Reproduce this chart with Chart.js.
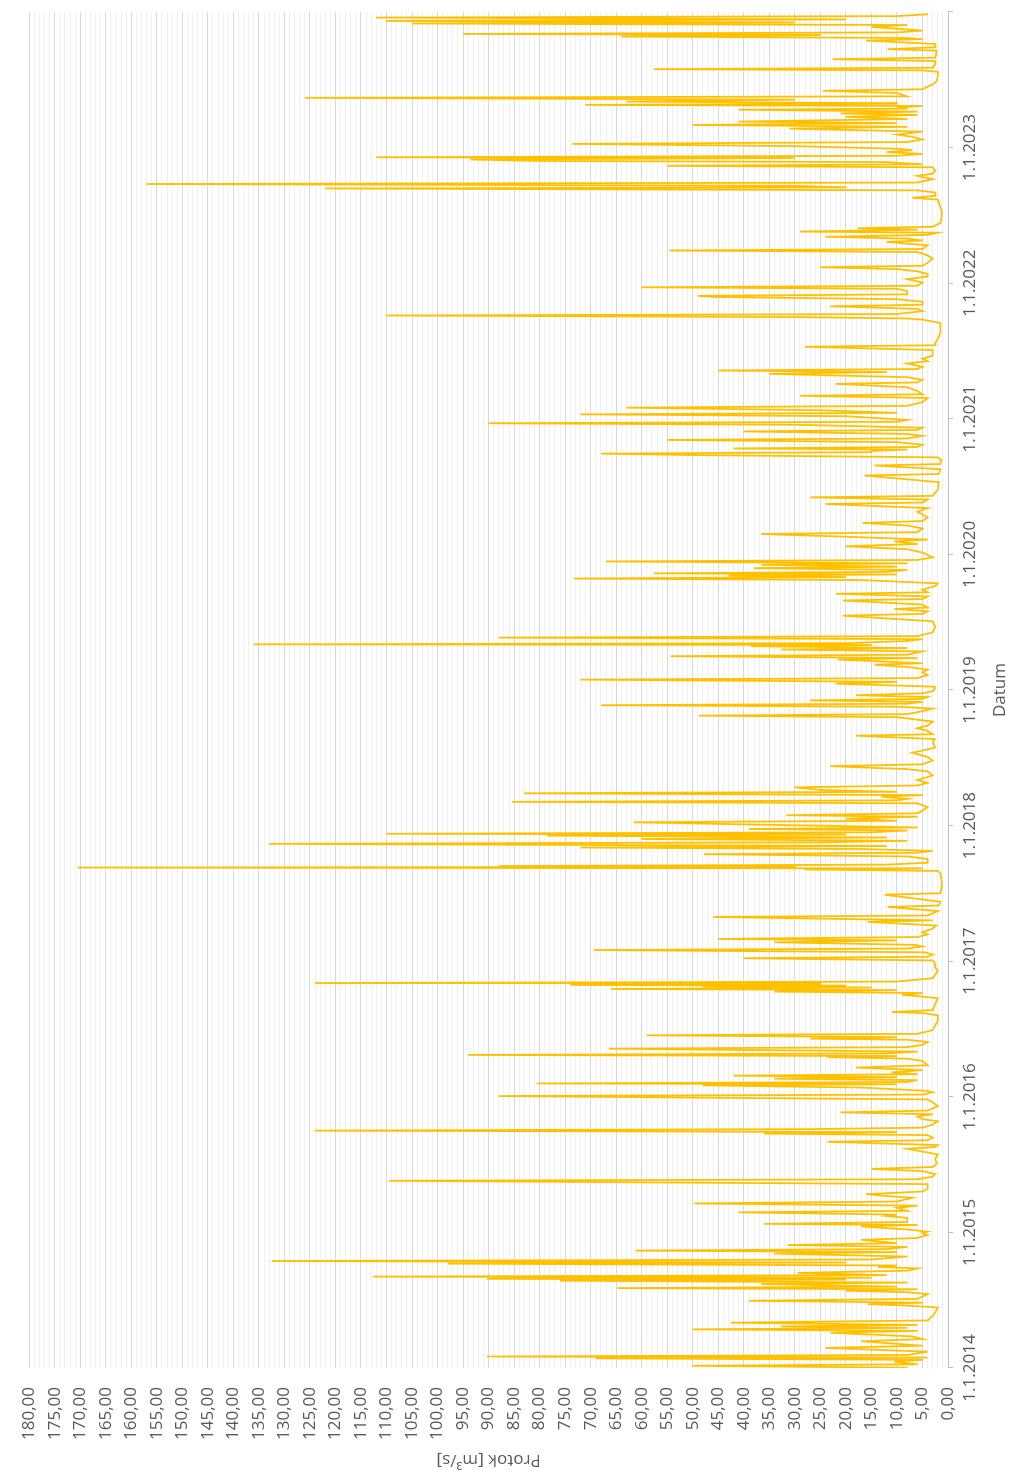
<!DOCTYPE html>
<html>
<head>
<meta charset="utf-8">
<script src="https://cdn.jsdelivr.net/npm/chart.js@4.4.1/dist/chart.umd.min.js"></script>
<style>
  html, body { margin: 0; padding: 0; background: #fff; overflow: hidden; }
  /* graf je nacrtan vodoravno pa zakrenut za -90 stupnjeva */
  #okvir {
    position: absolute; left: 0; top: 0;
    width: 1470px; height: 1013px;
    transform-origin: 0 0;
    transform: translateY(1470px) rotate(-90deg);
  }
</style>
</head>
<body>
<div id="okvir"><canvas id="chart" width="1470" height="1013" style="width:1470px;height:1013px"></canvas></div>
<script>
// [dan u godini, protok m3/s] - ocitano s grafa
const godine = [2014, 2015, 2016, 2017, 2018, 2019, 2020, 2021, 2022, 2023];
const oznakeDatuma = ["1.1.2014", "1.1.2015", "1.1.2016", "1.1.2017", "1.1.2018", "1.1.2019", "1.1.2020", "1.1.2021", "1.1.2022", "1.1.2023"];

const protok2014 = [[1, 8], [6, 50], [10, 6], [17, 10.5], [22, 5], [26, 69], [28, 4], [31, 90.3], [35, 8], [44, 4], [54, 24], [60, 5], [72, 17], [78, 5], [85, 7], [95, 23], [100, 6], [104, 50], [108, 8], [112, 32.7], [116, 6], [122, 42.5], [128, 4], [140, 3], [150, 2.5], [163, 2], [168, 8], [172, 15.7], [176, 5], [181, 39], [186, 6], [199, 4], [204, 8], [208, 20], [212, 6], [215, 64.8], [219, 10], [226, 36.6], [230, 8], [235, 76], [238, 20], [240, 90.3], [243, 15], [246, 112.6], [250, 12], [256, 29.5], [262, 8], [268, 6], [272, 13.7], [276, 10], [281, 98], [284, 20], [288, 132.5], [292, 15], [300, 8], [308, 34], [312, 10], [316, 61.2], [320, 12], [326, 8], [331, 31.4], [336, 10], [345, 17], [350, 6], [358, 4], [363, 5]];
const protok2015 = [[2, 4], [8, 8], [16, 17], [20, 6], [23, 36], [28, 8], [39, 8], [44, 12], [48, 10], [54, 41], [58, 8], [66, 10], [72, 6], [78, 49.7], [83, 10], [93, 7], [98, 12], [103, 16], [110, 5], [118, 4], [130, 4], [139, 109.5], [143, 6], [150, 3], [157, 2.5], [165, 5], [171, 15], [176, 3], [185, 2.2], [198, 2.5], [210, 2], [225, 7.9], [230, 2.5], [235, 2], [244, 23.6], [248, 4], [255, 3], [262, 4], [266, 36], [270, 10], [274, 124], [278, 27], [282, 5], [290, 3], [299, 2], [305, 5], [312, 6], [318, 3], [323, 21], [328, 4], [340, 2], [350, 3], [358, 4]];
const protok2016 = [[2, 88], [6, 5], [12, 3], [16, 4], [25, 17], [31, 48], [34, 10], [36, 80.5], [40, 8], [45, 6], [49, 34], [53, 10], [57, 42], [61, 6], [66, 11], [72, 5], [79, 18], [85, 4], [97, 5], [103, 8], [107, 23.6], [110, 10], [113, 94], [117, 12], [122, 6], [130, 66.4], [134, 8], [140, 5], [148, 4], [154, 8], [157, 27], [161, 10], [166, 59], [170, 6], [180, 3], [193, 2.5], [205, 2], [220, 2], [226, 5], [229, 11], [234, 3], [250, 2.5], [266, 2], [272, 6], [275, 9], [280, 5], [284, 34], [288, 10], [291, 66], [295, 15], [298, 48], [300, 20], [302, 74], [305, 25], [307, 124], [311, 10], [320, 3], [330, 2.5], [339, 2], [350, 2.5], [362, 2.6]];
const protok2017 = [[2, 3], [8, 40], [12, 4], [18, 3], [24, 4.6], [30, 69.4], [34, 8], [40, 5], [44, 6.5], [51, 34], [56, 10], [60, 45], [65, 6], [72, 4], [78, 5], [88, 3], [96, 2.3], [106, 15.7], [110, 3], [119, 46], [123, 4], [135, 2], [146, 11.8], [150, 1.8], [160, 1.5], [179, 12.4], [183, 1.5], [200, 1.2], [220, 1.3], [236, 1.5], [243, 2], [247, 28], [250, 5], [252, 170.5], [254, 30], [256, 88], [260, 12], [265, 4], [275, 4], [282, 8], [288, 47.8], [292, 6], [297, 3], [302, 17], [306, 72], [310, 12], [316, 133], [320, 25], [324, 8], [329, 60], [333, 12], [338, 78.5], [341, 20], [343, 110], [347, 15], [352, 8], [356, 39], [360, 6]];
const protok2018 = [[5, 46.5], [9, 61.5], [13, 10], [19, 20], [24, 6], [28, 31.7], [33, 6], [40, 5], [50, 4], [60, 6], [64, 85.4], [68, 10], [72, 8], [78, 13], [82, 5], [87, 83], [91, 10], [96, 25], [103, 30], [108, 6], [115, 4], [123, 6], [135, 3], [146, 4], [152, 8], [160, 23], [165, 5], [175, 3], [185, 4], [196, 7], [210, 2.5], [225, 3], [233, 2.6], [242, 18], [246, 3], [255, 4], [262, 6], [269, 4], [280, 3], [292, 10], [296, 48.8], [300, 8], [308, 5], [315, 3], [320, 10], [324, 68], [328, 8], [333, 5], [337, 27], [341, 5], [346, 4], [351, 18], [356, 5], [362, 3]];
const protok2019 = [[3, 2.6], [9, 2.6], [17, 22], [22, 10], [28, 72], [32, 6], [40, 4], [48, 5], [55, 4], [62, 8], [68, 14.4], [72, 5], [82, 21.6], [86, 6], [91, 54.3], [95, 8], [104, 5], [109, 32.7], [113, 8], [118, 38.6], [121, 15], [123, 136], [126, 20], [132, 8], [137, 5], [141, 88], [145, 6], [155, 3], [170, 2.5], [185, 3], [200, 20.6], [205, 5], [212, 4], [218, 10.5], [222, 4], [230, 5], [241, 20.6], [245, 5], [252, 4], [259, 22], [263, 4], [270, 5], [280, 2.5], [287, 2], [296, 17], [300, 73.3], [304, 20], [308, 43], [311, 10], [314, 57.6], [318, 12], [323, 8], [328, 38], [332, 10], [337, 36.6], [341, 8], [346, 67], [350, 6], [357, 3]];
const protok2020 = [[5, 5], [14, 8], [22, 20], [28, 6], [35, 10.5], [40, 4], [49, 22.6], [55, 36.6], [60, 6], [70, 5], [78, 8], [85, 16.7], [90, 5], [100, 4], [115, 6], [125, 4], [136, 24], [140, 5], [148, 4], [154, 27], [158, 3], [175, 2], [195, 1.8], [213, 16.4], [217, 1.8], [230, 1.5], [240, 14.4], [244, 1.5], [255, 1.3], [262, 2], [268, 49], [272, 68], [276, 15], [279, 15], [283, 8], [286, 42], [290, 6], [296, 5], [303, 10], [309, 55], [313, 8], [320, 5], [325, 8], [332, 40], [336, 6], [342, 5], [350, 30], [354, 90], [358, 10], [363, 8]];
const protok2021 = [[7, 20], [12, 72], [16, 10], [23, 25], [30, 63], [35, 8], [45, 5], [56, 4], [62, 29], [66, 5], [75, 6], [85, 8], [94, 22], [98, 6], [105, 5], [112, 8], [116, 20], [121, 35], [126, 12], [130, 45], [134, 6], [140, 5], [149, 8], [155, 4], [162, 5], [170, 3], [185, 3], [194, 28], [198, 2.5], [203, 2.5], [215, 2], [231, 1.5], [245, 1.5], [258, 1.5], [267, 5], [270, 8], [274, 30], [278, 110], [282, 10], [290, 5], [296, 6], [303, 23], [307, 5], [315, 5], [322, 10], [328, 46], [331, 49], [335, 8], [344, 8], [350, 10], [354, 60], [358, 6]];
const protok2022 = [[2, 5], [11, 8], [18, 4], [25, 4], [32, 6], [38, 10], [43, 25], [47, 5], [55, 4], [66, 3], [75, 4], [84, 6], [88, 54.6], [92, 5], [102, 4], [111, 12], [115, 5], [120, 8], [125, 24], [130, 4], [136, 2], [139, 29], [144, 6], [148, 17.7], [152, 3], [162, 1.5], [175, 1.3], [189, 1.2], [205, 1.5], [218, 1.8], [225, 2], [230, 7], [235, 2.5], [244, 2.5], [250, 6], [255, 122], [258, 20], [262, 30], [267, 157], [271, 6], [280, 3], [289, 6], [295, 3], [303, 2.5], [312, 3], [316, 55], [320, 5], [326, 12], [329, 80], [333, 93.6], [337, 30], [339, 112], [343, 10], [348, 5], [353, 12], [358, 7], [362, 10]];
const protok2023 = [[4, 30], [10, 73.6], [15, 8], [22, 5], [29, 7], [35, 10], [43, 5], [51, 31], [56, 8], [61, 50], [66, 10], [70, 41], [77, 8], [83, 20], [88, 6], [92, 21], [97, 6], [102, 41], [105, 8], [108, 10], [112, 5], [115, 71], [118, 10], [120, 20], [124, 63], [129, 30], [134, 126], [138, 8], [147, 10], [153, 24.5], [157, 5], [161, 4.5], [170, 3], [179, 2.2], [195, 2], [204, 2], [208, 5], [211, 57.6], [215, 3], [225, 2.5], [233, 2.5], [238, 22.6], [242, 2.5], [252, 2.3], [261, 2.3], [265, 11.8], [270, 2.5], [279, 2.5], [288, 16], [292, 5], [295, 8], [299, 64], [303, 25], [306, 95], [310, 10], [315, 5], [325, 15], [330, 8], [334, 105], [337, 30], [341, 110], [345, 20], [350, 112], [354, 10], [359, 3.9]];

const poGodinama = [protok2014, protok2015, protok2016, protok2017, protok2018, protok2019, protok2020, protok2021, protok2022, protok2023];

const tocke = [];
godine.forEach((g, i) => {
  const dana = g % 4 === 0 ? 366 : 365;
  poGodinama[i].forEach(([dan, q]) => tocke.push({ x: g + dan / dana, y: q }));
});

const boja = "#595959";
const font = { family: "'Open Sans', sans-serif", size: 17 };

const canvas = document.getElementById("chart");
const ctx = canvas.getContext("2d");

new Chart(ctx, {
  type: "line",
  data: {
    datasets: [
      {
        label: "Protok",
        data: tocke,
        borderColor: "#FFC000",
        borderWidth: 1.8,
        pointRadius: 0,
        tension: 0,
        fill: false,
      },
    ],
  },
  options: {
    responsive: false,
    animation: false,
    devicePixelRatio: 1,
    layout: { padding: { top: 18, right: 12, left: 0, bottom: 0 } },
    plugins: { legend: { display: false }, tooltip: { enabled: false } },
    scales: {
      x: {
        type: "linear",
        min: 2014,
        max: 2024,
        afterFit: (s) => { s.height = 65; },
        ticks: {
          stepSize: 1,
          autoSkip: false,
          maxRotation: 0,
          padding: 7,
          color: boja,
          font: font,
          callback: (v) => oznakeDatuma[v - 2014] || "",
        },
        grid: { drawOnChartArea: false, drawTicks: true, tickLength: 5, color: "#bfbfbf" },
        border: { display: true, color: "#bfbfbf" },
        title: { display: true, text: "Datum", color: boja, font: font, padding: { top: 0, bottom: 3 } },
      },
      y: {
        min: 0,
        max: 180,
        afterFit: (s) => { s.width = 102; },
        ticks: {
          stepSize: 1,
          autoSkip: false,
          padding: 19,
          color: boja,
          font: font,
          callback: (v) => (v % 5 === 0 ? v.toFixed(2).replace(".", ",") : ""),
        },
        grid: {
          drawTicks: false,
          color: (c) => (c.tick && c.tick.value % 5 === 0 ? "#d9d9d9" : "#f0f0f0"),
        },
        border: { display: false },
        title: { display: true, text: "Protok [m³/s]", color: boja, font: font, padding: { top: 0, bottom: 0 } },
      },
    },
  },
});
</script>
</body>
</html>
